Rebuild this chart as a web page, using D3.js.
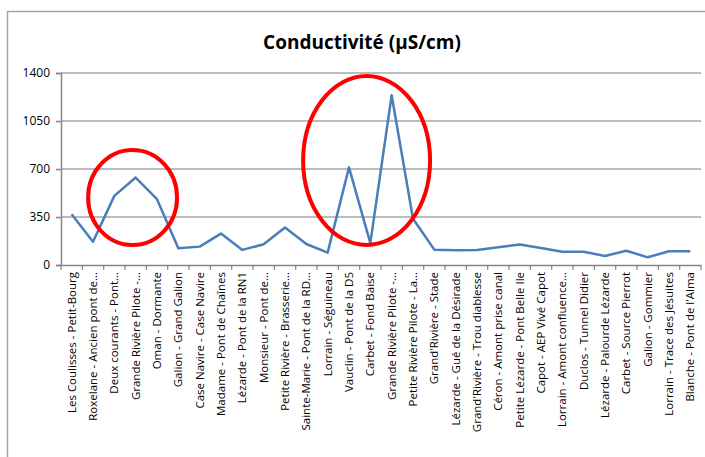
<!DOCTYPE html>
<html>
<head>
<meta charset="utf-8">
<script src="https://cdn.jsdelivr.net/npm/d3@7"></script>
<style>
  body { margin: 0; background: #fff; }
  svg { font-family: "Open Sans", sans-serif; }
</style>
</head>
<body>
<div id="vis"></div>
<script>
// sites sampled, in chart order
var sites = [
  "Les Coulisses - Petit-Bourg", "Roxelane - Ancien pont de…", "Deux courants - Pont…",
  "Grande Rivière Pilote -…", "Oman - Dormante", "Galion - Grand Galion",
  "Case Navire - Case Navire", "Madame - Pont de Chaînes", "Lézarde - Pont de la RN1",
  "Monsieur - Pont de…", "Petite Rivière - Brasserie…", "Sainte-Marie - Pont de la RD…",
  "Lorrain - Séguineau", "Vauclin - Pont de la D5", "Carbet - Fond Baise",
  "Grande Rivière Pilote -…", "Petite Rivière Pilote - La…", "Grand'Rivière - Stade",
  "Lézarde - Gué de la Désirade", "Grand'Rivière - Trou diablesse", "Céron - Amont prise canal",
  "Petite Lézarde - Pont Belle Ile", "Capot - AEP Vivé Capot", "Lorrain - Amont confluence…",
  "Duclos - Tunnel Didier", "Lézarde - Palourde Lézarde", "Carbet - Source Pierrot",
  "Galion - Gommier", "Lorrain - Trace des Jésuites", "Blanche - Pont de l'Alma"
];

// conductivity in µS/cm
var conductivity = [
  370, 170, 504, 638, 480, 122, 134, 229, 110, 151,
  273, 153, 90, 712, 160, 1238, 337, 112, 107, 109,
  129, 150, 124, 97, 97, 66, 104, 56, 100, 100
];

var yTicks = [0, 350, 700, 1050, 1400];

// highlighted zones: [left edge, right edge (in category steps), low value, high value]
var zoneA = [1.27, 5.44, 146, 839];
var zoneB = [11.35, 17.3, 146, 1378];

var width = 705, height = 457;

var svg = d3.select("#vis")
  .append("svg")
  .attr("width", width)
  .attr("height", height);

// chart frame
svg.append("rect")
  .attr("x", 7.5).attr("y", 11.5)
  .attr("width", 720).attr("height", 460)
  .attr("fill", "none")
  .attr("stroke", "#a6a6a6")
  .attr("stroke-width", 1.5);

var margin = {top: 73, right: 4, bottom: 192, left: 61},
  graphWidth = width - margin.left - margin.right,
  graphHeight = height - margin.top - margin.bottom;

var x = d3.scaleBand().domain(d3.range(sites.length)).range([0, graphWidth]),
    y = d3.scaleLinear().domain([0, 1400]).range([graphHeight, 0]);

var graph = svg.append("g")
  .attr("transform", "translate(" + margin.left + "," + margin.top + ")");

// title
svg.append("text")
  .attr("x", 362)
  .attr("y", 49)
  .attr("text-anchor", "middle")
  .attr("font-size", "19px")
  .attr("font-weight", "bold")
  .text("Conductivité (µS/cm)");

// gridlines
graph.selectAll(".grid")
  .data(yTicks.slice(1))
  .enter().append("line")
  .attr("x1", 0).attr("x2", graphWidth)
  .attr("y1", function(d) { return y(d); })
  .attr("y2", function(d) { return y(d); })
  .attr("stroke", "#a6a6a6")
  .attr("stroke-width", 1.5);

// y axis
var yAxis = graph.append("g")
  .call(d3.axisLeft(y).tickValues(yTicks).tickFormat(d3.format("d")).tickSize(5).tickPadding(6));
yAxis.selectAll("text").attr("font-size", "12px").attr("fill", "#000")
  .attr("font-family", "Open Sans, sans-serif");
yAxis.selectAll("line, path").attr("stroke", "#868686").attr("stroke-width", 1.5);

// x axis, ticks between categories
var xAxis = graph.append("g")
  .attr("transform", "translate(0," + graphHeight + ")")
  .call(d3.axisBottom(x).tickFormat(function(i) { return sites[i]; }).tickSize(0).tickPadding(0));
xAxis.select("path").attr("stroke", "#868686").attr("stroke-width", 1.5);
xAxis.selectAll("text")
  .attr("font-size", "11.5px")
  .attr("font-family", "Open Sans, sans-serif")
  .attr("fill", "#000")
  .attr("text-anchor", "end")
  .attr("dy", "0.35em")
  .attr("transform", "translate(0,7) rotate(-90)")
  .attr("x", 0).attr("y", 0);

xAxis.selectAll(".sep")
  .data(d3.range(sites.length + 1))
  .enter().append("line")
  .attr("x1", function(i) { return i * x.step(); })
  .attr("x2", function(i) { return i * x.step(); })
  .attr("y1", 0).attr("y2", 5)
  .attr("stroke", "#868686")
  .attr("stroke-width", 1.2);

// the series line
var line = d3.line()
  .x(function(d, i) { return x(i) + x.bandwidth() / 2; })
  .y(function(d) { return y(d); });

graph.append("path")
  .datum(conductivity)
  .attr("d", line)
  .attr("fill", "none")
  .attr("stroke", "#4a7ebb")
  .attr("stroke-width", 2.5)
  .attr("stroke-linejoin", "round");

// red ellipses around the peaks
[zoneA, zoneB].forEach(function(z) {
  var x0 = x.step() * z[0], x1 = x.step() * z[1];
  graph.append("ellipse")
    .attr("cx", (x0 + x1) / 2)
    .attr("cy", (y(z[2]) + y(z[3])) / 2)
    .attr("rx", (x1 - x0) / 2)
    .attr("ry", (y(z[2]) - y(z[3])) / 2)
    .attr("fill", "none")
    .attr("stroke", "#ff0000")
    .attr("stroke-width", 4);
});
</script>
</body>
</html>
